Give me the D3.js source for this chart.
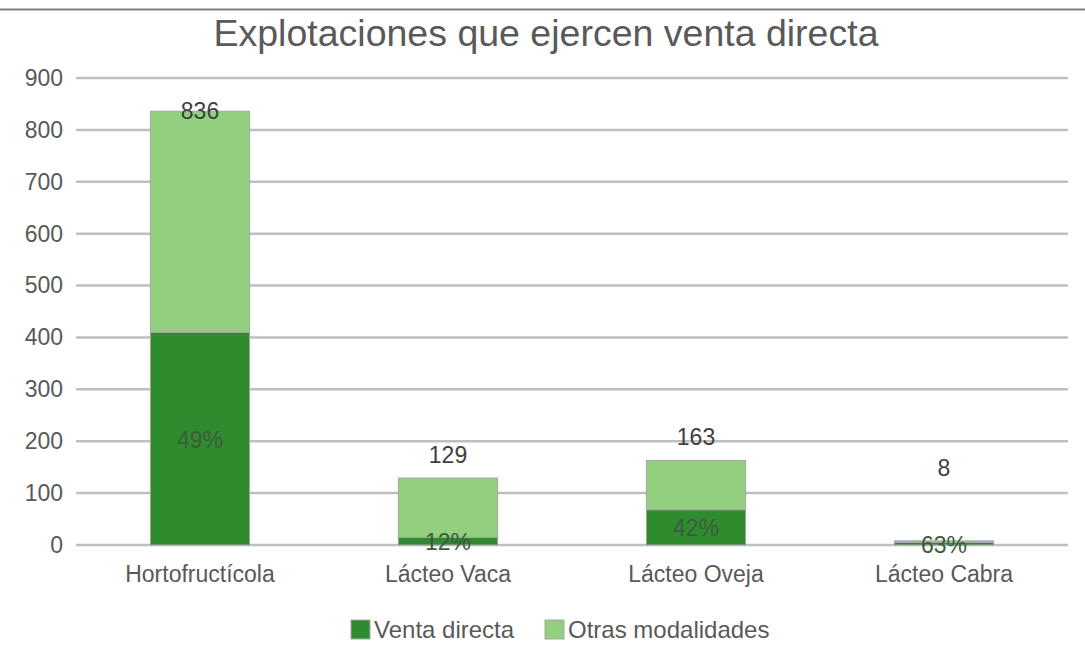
<!DOCTYPE html>
<html>
<head>
<meta charset="utf-8">
<script src="https://cdn.jsdelivr.net/npm/d3@7"></script>
<style>
  body { margin: 0; background: #fff; }
  text { font-family: "Liberation Sans", Arial, sans-serif; }
</style>
</head>
<body>
<div id="chart"></div>
<script>
// data
const categories = ["Hortofructícola", "Lácteo Vaca", "Lácteo Oveja", "Lácteo Cabra"];
const ventaDirecta = [410, 15, 68, 5];
const otrasModalidades = [426, 114, 95, 3];
const totals = [836, 129, 163, 8];
const percentLabels = ["49%", "12%", "42%", "63%"];
const yTicks = [0, 100, 200, 300, 400, 500, 600, 700, 800, 900];
const seriesNames = ["Venta directa", "Otras modalidades"];

// label offsets above bar (px), as placed in the original
const totalLabelDy = [0, -23, -23, -73];

const svgWidth = 1085;
const svgHeight = 663;
const colors = ["#2e8b2e", "#92d080"];
const textColor = "#595959";

const svg = d3.select("#chart")
    .append("svg")
    .attr("width", svgWidth)
    .attr("height", svgHeight);

// top frame line
svg.append("line")
    .attr("x1", 0).attr("x2", svgWidth)
    .attr("y1", 9.5).attr("y2", 9.5)
    .attr("stroke", "#7f7f7f")
    .attr("stroke-width", 2);

svg.append("text")
    .attr("x", 546)
    .attr("y", 46)
    .attr("text-anchor", "middle")
    .attr("font-size", "37.5px")
    .attr("fill", textColor)
    .text("Explotaciones que ejercen venta directa");

const xScale = d3.scaleBand()
    .domain(categories)
    .range([76, 1068])
    .paddingInner(0.6)
    .paddingOuter(0.3);

const yScale = d3.scaleLinear()
    .domain([0, 900])
    .range([545, 78]);

// gridlines
svg.append("g")
    .selectAll("line")
    .data(yTicks)
    .enter()
    .append("line")
    .attr("x1", 76)
    .attr("x2", 1068)
    .attr("y1", d => yScale(d))
    .attr("y2", d => yScale(d))
    .attr("stroke", "#bfbfbf")
    .attr("stroke-width", 2.5);

// y axis labels
const leftAxis = d3.axisLeft(yScale).tickValues(yTicks).tickSize(0).tickPadding(0);
const yAxis = svg.append("g")
    .attr("transform", "translate(63, 0)")
    .call(leftAxis);
yAxis.select(".domain").remove();
yAxis.selectAll("text")
    .attr("font-size", "23px")
    .attr("fill", textColor)
    .attr("font-family", "Liberation Sans, Arial, sans-serif");

// x axis labels
const bottomAxis = d3.axisBottom(xScale).tickSize(0).tickPadding(0);
const xAxis = svg.append("g")
    .attr("transform", "translate(0, 566)")
    .call(bottomAxis);
xAxis.select(".domain").remove();
xAxis.selectAll("text")
    .attr("font-size", "23px")
    .attr("fill", textColor)
    .attr("font-family", "Liberation Sans, Arial, sans-serif");

// stacked bars
const table = categories.map((c, i) => ({
    cat: c,
    venta: ventaDirecta[i],
    otras: otrasModalidades[i]
}));
const stack = d3.stack().keys(["venta", "otras"]);
const layers = stack(table);

svg.append("g")
    .selectAll("g")
    .data(layers)
    .enter()
    .append("g")
    .attr("fill", (d, i) => colors[i])
    .selectAll("rect")
    .data(d => d)
    .enter()
    .append("rect")
    .attr("x", d => xScale(d.data.cat))
    .attr("y", d => yScale(d[1]))
    .attr("width", xScale.bandwidth())
    .attr("height", d => yScale(d[0]) - yScale(d[1]))
    .attr("stroke", "#a6a6a6")
    .attr("stroke-width", 1);

// total labels
svg.append("g")
    .selectAll("text")
    .data(table)
    .enter()
    .append("text")
    .attr("x", d => xScale(d.cat) + xScale.bandwidth() / 2)
    .attr("y", (d, i) => yScale(totals[i]) + totalLabelDy[i] + 8)
    .attr("text-anchor", "middle")
    .attr("font-size", "23px")
    .attr("fill", "#404040")
    .text((d, i) => totals[i]);

// percent labels in venta directa segment
svg.append("g")
    .selectAll("text")
    .data(table)
    .enter()
    .append("text")
    .attr("x", d => xScale(d.cat) + xScale.bandwidth() / 2)
    .attr("y", d => yScale(d.venta / 2) + 9)
    .attr("text-anchor", "middle")
    .attr("font-size", "23px")
    .attr("fill", "#3d5c3d")
    .text((d, i) => percentLabels[i]);

// legend
const legendX = [351, 545];
const legend = svg.append("g")
    .selectAll("g")
    .data(seriesNames)
    .enter()
    .append("g")
    .attr("transform", (d, i) => `translate(${legendX[i]}, 620)`);
legend.append("rect")
    .attr("width", 19)
    .attr("height", 19)
    .attr("fill", (d, i) => colors[i])
    .attr("stroke", "#a6a6a6");
legend.append("text")
    .attr("x", 23)
    .attr("y", 18)
    .attr("font-size", "24px")
    .attr("fill", textColor)
    .text(d => d);
</script>
</body>
</html>
